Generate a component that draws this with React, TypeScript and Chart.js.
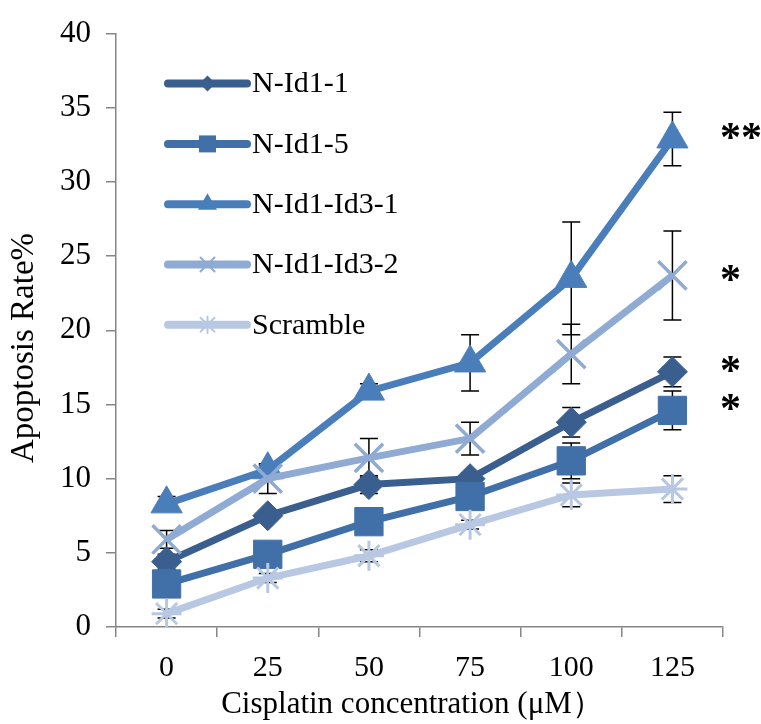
import React, { useEffect, useRef } from 'react';
import { Chart, registerables } from 'chart.js';

Chart.register(...registerables);

// ---------- data ----------
const categories = ['0', '25', '50', '75', '100', '125'];
const seriesNames = ['N-Id1-1', 'N-Id1-5', 'N-Id1-Id3-1', 'N-Id1-Id3-2', 'Scramble'];

const nId1_1 = [4.4, 7.5, 9.6, 10.0, 13.8, 17.2];
const nId1_5 = [2.9, 4.9, 7.1, 8.8, 11.2, 14.6];
const nId1Id3_1 = [8.3, 10.6, 15.9, 17.8, 23.5, 32.9];
const nId1Id3_2 = [5.9, 10.0, 11.4, 12.7, 18.4, 23.7];
const scramble = [0.9, 3.3, 4.8, 6.9, 8.9, 9.3];

const errId1_1 = [0.5, 0.3, 0.6, 0.4, 1.0, 1.0];
const errId1_5 = [0.4, 0.4, 0.5, 0.5, 1.2, 1.3];
const errId1Id3_1 = [0.5, 0.3, 0.5, 1.9, 3.8, 1.8];
const errId1Id3_2 = [0.6, 1.0, 1.3, 1.1, 2.0, 3.0];
const errScramble = [0.3, 0.3, 0.4, 0.3, 0.8, 0.9];

// significance marks beside the 125 μM points (label and its y level)
const significance = ['*', '*', '**', '*', ''];
const significanceLevels = [17.0, 14.4, 32.7, 23.1, 0];

const yMin = 0;
const yMax = 40;
const yStep = 5;

const xTitle = 'Cisplatin concentration (μM）';
const yTitle = 'Apoptosis Rate%';

// ---------- styles ----------
const seriesValues = [nId1_1, nId1_5, nId1Id3_1, nId1Id3_2, scramble];
const seriesErrors = [errId1_1, errId1_5, errId1Id3_1, errId1Id3_2, errScramble];
const colors = ['#3A5F8E', '#4170A8', '#4A7EBB', '#8FABD3', '#B9C8E2'];
const pointStyles = ['rectRot', 'rect', 'triangle', 'crossRot', 'star'];
const pointRadii = [15, 20, 18, 20, 15];
const pointBorderWidths = [1, 1, 1, 3.5, 3];

const fontFamily = "'Liberation Serif', 'Times New Roman', Times, serif";
const axisGray = '#868686';

function drawLegendMarker(ctx: CanvasRenderingContext2D, style: string, x: number, y: number, color: string) {
  ctx.save();
  ctx.fillStyle = color;
  ctx.strokeStyle = color;
  ctx.beginPath();
  if (style === 'rectRot') {
    const r = 8;
    ctx.moveTo(x, y - r);
    ctx.lineTo(x + r, y);
    ctx.lineTo(x, y + r);
    ctx.lineTo(x - r, y);
    ctx.closePath();
    ctx.fill();
  } else if (style === 'rect') {
    const h = 8.5;
    ctx.rect(x - h, y - h, 2 * h, 2 * h);
    ctx.fill();
  } else if (style === 'triangle') {
    const r = 11;
    ctx.moveTo(x, y - r);
    ctx.lineTo(x + r * 0.866, y + r / 2);
    ctx.lineTo(x - r * 0.866, y + r / 2);
    ctx.closePath();
    ctx.fill();
  } else if (style === 'crossRot') {
    const h = 7;
    ctx.lineWidth = 2;
    ctx.moveTo(x - h, y - h);
    ctx.lineTo(x + h, y + h);
    ctx.moveTo(x - h, y + h);
    ctx.lineTo(x + h, y - h);
    ctx.stroke();
  } else if (style === 'star') {
    const h = 7;
    ctx.lineWidth = 2;
    ctx.moveTo(x - h, y - h);
    ctx.lineTo(x + h, y + h);
    ctx.moveTo(x - h, y + h);
    ctx.lineTo(x + h, y - h);
    ctx.moveTo(x, y - h * 1.2);
    ctx.lineTo(x, y + h * 1.2);
    ctx.stroke();
  }
  ctx.restore();
}

const errorBarPlugin = {
  id: 'errorBars',
  beforeDatasetsDraw(chart: any) {
    const ctx = chart.ctx as CanvasRenderingContext2D;
    const yScale = chart.scales.y;
    ctx.save();
    ctx.strokeStyle = '#000';
    ctx.lineWidth = 1.5;
    chart.data.datasets.forEach((ds: any, di: number) => {
      const meta = chart.getDatasetMeta(di);
      const errs = seriesErrors[di];
      meta.data.forEach((pt: any, i: number) => {
        const v = ds.data[i];
        const e = errs[i];
        const x = pt.x;
        const yt = yScale.getPixelForValue(v + e);
        const yb = yScale.getPixelForValue(v - e);
        ctx.beginPath();
        ctx.moveTo(x, yt);
        ctx.lineTo(x, yb);
        ctx.moveTo(x - 9, yt);
        ctx.lineTo(x + 9, yt);
        ctx.moveTo(x - 9, yb);
        ctx.lineTo(x + 9, yb);
        ctx.stroke();
      });
    });
    ctx.restore();
  },
};

const overlayPlugin = {
  id: 'overlay',
  afterDraw(chart: any) {
    const ctx = chart.ctx as CanvasRenderingContext2D;
    const area = chart.chartArea;
    const yScale = chart.scales.y;

    // legend
    ctx.save();
    const legX0 = area.left + 52;
    const legX1 = area.left + 131;
    const legY0 = area.top + 50;
    const legGap = 60.3;
    seriesNames.forEach((name, i) => {
      const y = legY0 + i * legGap;
      ctx.strokeStyle = colors[i];
      ctx.lineWidth = 8;
      ctx.lineCap = 'round';
      ctx.beginPath();
      ctx.moveTo(legX0, y);
      ctx.lineTo(legX1, y);
      ctx.stroke();
      drawLegendMarker(ctx, pointStyles[i], (legX0 + legX1) / 2, y, colors[i]);
      ctx.fillStyle = '#000';
      ctx.font = `30px ${fontFamily}`;
      ctx.textAlign = 'left';
      ctx.textBaseline = 'middle';
      ctx.fillText(name, legX1 + 5, y + 1);
    });
    ctx.restore();

    // significance marks
    ctx.save();
    ctx.fillStyle = '#000';
    ctx.font = `bold 42px ${fontFamily}`;
    ctx.textAlign = 'left';
    ctx.textBaseline = 'alphabetic';
    significance.forEach((s, i) => {
      if (!s) return;
      const py = yScale.getPixelForValue(significanceLevels[i]);
      ctx.fillText(s, area.right - 3, py + 9);
    });
    ctx.restore();

    // axis titles
    ctx.save();
    ctx.fillStyle = '#000';
    ctx.font = `31px ${fontFamily}`;
    ctx.textAlign = 'center';
    ctx.textBaseline = 'alphabetic';
    ctx.fillText(xTitle, 412, 713);
    ctx.translate(33, 348);
    ctx.rotate(-Math.PI / 2);
    ctx.font = `33px ${fontFamily}`;
    ctx.fillText(yTitle, 0, 0);
    ctx.restore();
  },
};

export default function App() {
  const canvasRef = useRef<HTMLCanvasElement | null>(null);

  useEffect(() => {
    if (!canvasRef.current) return;
    const chart = new Chart(canvasRef.current, {
      type: 'line',
      data: {
        labels: categories,
        datasets: seriesNames.map((name, i) => ({
          label: name,
          data: seriesValues[i],
          borderColor: colors[i],
          backgroundColor: colors[i],
          borderWidth: 7,
          pointStyle: pointStyles[i] as any,
          pointRadius: pointRadii[i],
          pointBorderWidth: pointBorderWidths[i],
          pointBackgroundColor: colors[i],
          pointBorderColor: colors[i],
          tension: 0,
          fill: false,
          order: -i,
        })),
      },
      options: {
        animation: false,
        responsive: true,
        maintainAspectRatio: false,
        layout: { padding: { left: 0, right: 38, top: 26, bottom: 0 } },
        plugins: {
          legend: { display: false },
          tooltip: { enabled: false },
          title: { display: false },
        },
        scales: {
          x: {
            type: 'category',
            offset: true,
            grid: {
              display: true,
              drawOnChartArea: false,
              drawTicks: true,
              tickLength: 10,
              color: axisGray,
              lineWidth: 1.5,
              offset: true,
            },
            border: { display: true, color: axisGray, width: 1.5 },
            ticks: {
              color: '#000',
              padding: 13,
              font: { family: fontFamily, size: 30 },
              maxRotation: 0,
            },
            afterFit: (scale: any) => {
              scale.height = 97;
            },
          },
          y: {
            min: yMin,
            max: yMax,
            grid: {
              display: true,
              drawOnChartArea: false,
              drawTicks: true,
              tickLength: 10,
              color: axisGray,
              lineWidth: 1.5,
            },
            border: { display: true, color: axisGray, width: 1.5 },
            ticks: {
              stepSize: yStep,
              color: '#000',
              padding: 15,
              font: { family: fontFamily, size: 31 },
            },
            afterFit: (scale: any) => {
              scale.width = 116;
            },
          },
        },
      },
      plugins: [errorBarPlugin, overlayPlugin],
    });
    return () => chart.destroy();
  }, []);

  return (
    <div style={{ position: 'absolute', left: 0, top: 0, width: 761, height: 724, background: '#fff' }}>
      <canvas ref={canvasRef} />
    </div>
  );
}
